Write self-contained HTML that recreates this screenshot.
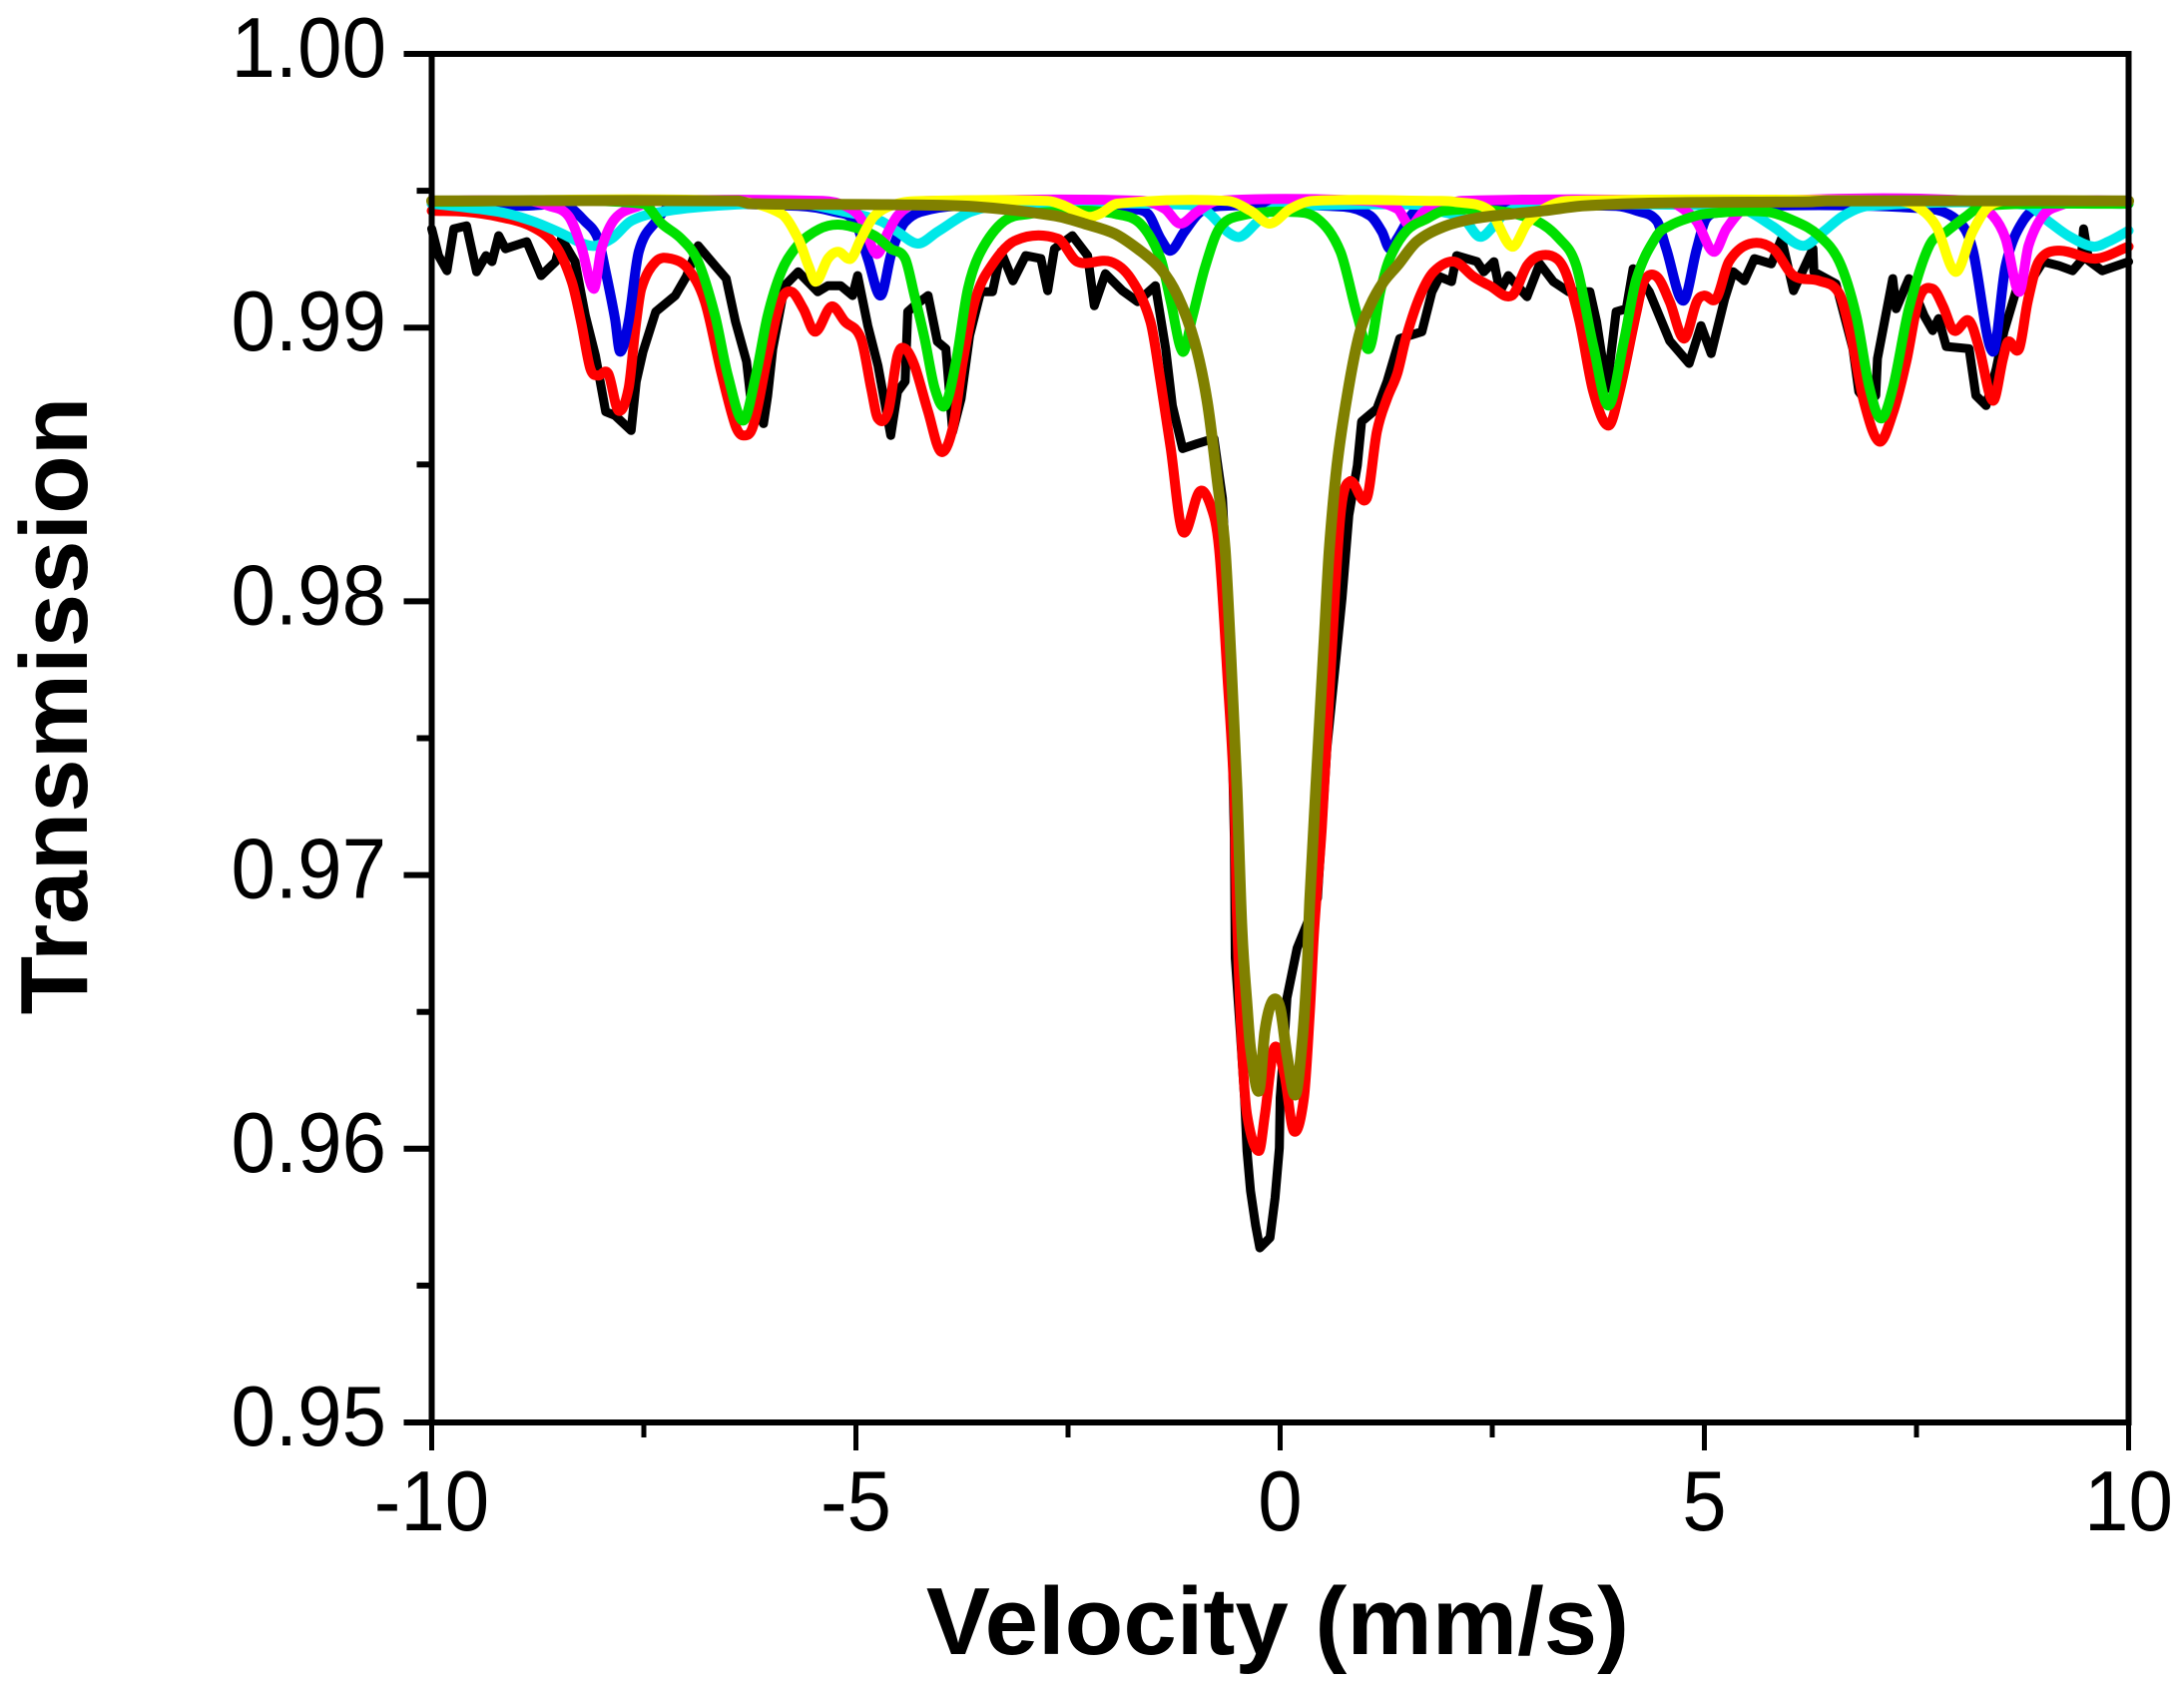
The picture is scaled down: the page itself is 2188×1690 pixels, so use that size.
<!DOCTYPE html>
<html lang="en">
<head>
<meta charset="utf-8">
<title>Transmission vs Velocity</title>
<style>
html,body{margin:0;padding:0;background:#fff;}
svg{display:block;}
text{font-family:"Liberation Sans",Arial,sans-serif;fill:#000;}
</style>
</head>
<body>
<svg id="chart" xmlns="http://www.w3.org/2000/svg" width="2188" height="1690" viewBox="0 0 2188 1690">
  <rect x="0" y="0" width="2188" height="1690" fill="#ffffff"/>
  <g id="series" fill="none" stroke-linejoin="round" stroke-linecap="round"></g>
  <g id="axes"></g>
  <text x="1280" y="1657" font-size="96" font-weight="bold" text-anchor="middle">Velocity (mm/s)</text>
  <text transform="translate(87,707) rotate(-90)" font-size="96" font-weight="bold" text-anchor="middle">Transmission</text>
</svg>
<script>
const xTickValues = [-10, -7.5, -5, -2.5, 0, 2.5, 5, 7.5, 10];
const xTickLabels = ['-10', '', '-5', '', '0', '', '5', '', '10'];
const yTickValues = [0.95, 0.955, 0.96, 0.965, 0.97, 0.975, 0.98, 0.985, 0.99, 0.995, 1];
const yTickLabels = ['0.95', '', '0.96', '', '0.97', '', '0.98', '', '0.99', '', '1.00'];

const measuredVelocity = [
-10,-9.92,-9.82,-9.74,-9.59,-9.47,-9.36,-9.29,-9.21,-9.13,
-8.88,-8.71,-8.54,-8.47,-8.31,-8.19,-8.07,-7.95,-7.84,-7.65,
-7.59,-7.51,-7.36,-7.13,-7,-6.86,-6.66,-6.53,-6.42,-6.29,
-6.24,-6.09,-6.04,-5.98,-5.84,-5.68,-5.45,-5.33,-5.18,-5.04,
-4.98,-4.86,-4.74,-4.59,-4.51,-4.42,-4.39,-4.31,-4.15,-4.04,
-3.94,-3.86,-3.76,-3.66,-3.53,-3.39,-3.29,-3.15,-3,-2.82,
-2.74,-2.66,-2.45,-2.27,-2.19,-2.06,-1.86,-1.68,-1.47,-1.35,
-1.27,-1.15,-.98,-.78,-.68,-.59,-.54,-.53,-.47,-.42,
-.39,-.35,-.29,-.24,-.12,-.06,-.01,0,.05,.08,
.2,.44,.55,.73,.81,.91,.96,1.14,1.26,1.41,
1.67,1.79,1.88,2.02,2.08,2.32,2.4,2.52,2.59,2.69,
2.91,3.06,3.22,3.4,3.65,3.73,3.85,3.96,4.08,4.16,
4.35,4.59,4.82,4.96,5.08,5.24,5.34,5.47,5.59,5.79,
5.91,6.05,6.28,6.29,6.55,6.75,6.82,6.93,7.02,7.04,
7.22,7.26,7.41,7.59,7.69,7.76,7.85,8.12,8.2,8.32,
8.44,8.53,8.67,8.79,8.99,9.18,9.34,9.44,9.47,9.53,
9.69,10];
const measuredTransmission = [
.99361,.99263,.99208,.99361,.99372,.99204,.99263,.99241,.99336,.99288,
.99314,.9919,.99241,.99325,.99241,.99044,.98898,.98693,.98679,.98624,
.98803,.98912,.99058,.99117,.99186,.99299,.99226,.99179,.99022,.98876,
.98741,.98649,.98752,.98923,.99153,.99204,.99131,.99153,.99153,.99117,
.9919,.99007,.98861,.98606,.98766,.98803,.99058,.9908,.99117,.98949,
.98923,.9862,.98741,.98971,.99131,.99131,.99277,.99171,.99263,.99252,
.99135,.99288,.99336,.99263,.9908,.99197,.99135,.99095,.99153,.98923,
.98715,.98558,.98576,.98595,.98376,.97828,.97135,.96697,.9643,.96186,
.95992,.95846,.95722,.95638,.95675,.95821,.96003,.96186,.96405,.96551,
.96733,.96916,.97463,.98011,.98314,.98496,.98657,.98704,.98803,.9896,
.98985,.99131,.99186,.99168,.99263,.99241,.99204,.99241,.99131,.9919,
.99113,.99233,.99168,.99131,.99131,.99022,.98777,.99058,.99069,.99215,
.99131,.98952,.98869,.99007,.98905,.99106,.99204,.99171,.99252,.99233,
.99325,.99135,.99288,.99204,.9916,.98923,.98766,.98723,.98752,.98887,
.99179,.99069,.99179,.99044,.98989,.99033,.98931,.98923,.98752,.98715,
.9885,.98985,.99131,.99142,.99241,.99226,.99208,.99244,.99361,.99244,
.99208,.99241];

const totalFitVelocity = [
-10,-9.6,-9.21,-8.82,-8.54,-8.35,-8.24,-8.13,-8.04,-7.92,
-7.8,-7.68,-7.6,-7.53,-7.36,-7.18,-6.98,-6.78,-6.59,-6.42,
-6.33,-6.21,-6.04,-5.89,-5.76,-5.62,-5.48,-5.29,-5.13,-4.94,
-4.82,-4.74,-4.62,-4.51,-4.42,-4.31,-4.15,-4,-3.86,-3.74,
-3.6,-3.45,-3.13,-2.62,-2.39,-2,-1.76,-1.53,-1.41,-1.29,
-1.15,-.95,-.82,-.72,-.62,-.54,-.51,-.45,-.39,-.25,
-.18,-.07,.05,.16,.28,.35,.4,.49,.59,.71,
.82,1.02,1.14,1.26,1.38,1.49,1.65,1.81,2.05,2.28,
2.47,2.73,2.91,3.06,3.26,3.38,3.53,3.69,3.87,4,
4.2,4.29,4.44,4.59,4.76,4.91,5,5.14,5.29,5.53,
5.81,6.05,6.35,6.59,6.73,6.88,7.06,7.22,7.38,7.53,
7.69,7.81,7.94,8.12,8.24,8.4,8.52,8.58,8.71,8.81,
8.94,9.18,9.61,10];
const totalFitTransmission = [
.99427,.99423,.99405,.99369,.99299,.99168,.99022,.9885,.98825,.98832,
.98697,.98777,.98996,.99142,.99241,.99252,.99215,.99095,.98839,.98642,
.98606,.98642,.98898,.99095,.99131,.99069,.98985,.99077,.99022,.9896,
.98777,.98668,.98693,.98898,.98923,.98861,.98693,.98547,.98631,.98876,
.99095,.99204,.99317,.99325,.99241,.99241,.99179,.99022,.98803,.98558,
.98255,.98401,.9835,.98193,.97719,.97281,.96854,.96368,.96124,.95992,
.96124,.96368,.9627,.96065,.96186,.96503,.96795,.97171,.97719,.98314,
.98438,.98376,.9862,.98741,.98832,.98971,.99117,.99204,.99241,.99186,
.99153,.99117,.99226,.99263,.99252,.9919,.99022,.98766,.98642,.98766,
.99058,.99171,.99186,.99095,.9896,.99095,.99117,.99106,.99241,.99306,
.99288,.9919,.99171,.99124,.98967,.9873,.98584,.98686,.98876,.99106,
.99142,.9908,.98989,.99025,.98923,.98733,.98887,.98949,.98923,.99095,
.99241,.99281,.99252,.99296];

const blueVelocity = [
-10,-8.94,-8.42,-8.19,-8.04,-7.95,-7.84,-7.78,-7.68,-7.56,
-7.36,-7.18,-5.68,-5.25,-5.01,-4.86,-4.71,-4.59,-4.51,-4.42,
-4.24,-3.8,-2.04,-1.8,-1.56,-1.41,-1.29,-1.13,-.94,-.68,
.75,1.06,1.2,1.29,1.38,1.58,1.85,3.96,4.2,4.44,
4.55,4.75,4.91,5.02,5.22,5.49,7.65,8,8.16,8.4,
8.55,8.75,8.99,10];
const blueTransmission = [
.99453,.99445,.99445,.99387,.99325,.99204,.99033,.98912,.99022,.99277,
.99387,.99442,.99445,.99423,.99387,.99252,.99117,.99263,.99336,.99387,
.99423,.99445,.99445,.99434,.99416,.99325,.99281,.9935,.99423,.99445,
.99442,.99409,.9935,.99288,.99325,.99423,.99445,.99445,.99427,.9939,
.99288,.99098,.99288,.99398,.99423,.99445,.99434,.99387,.99288,.98912,
.99226,.99387,.99445,.99453];

const cyanVelocity = [
-10,-9.21,-8.82,-8.51,-8.12,-7.88,-7.65,-7.29,-6.66,-5.68,
-5.13,-4.71,-4.51,-4.27,-4.04,-3.65,-3.21,-1.09,-.86,-.62,
-.47,-.29,-.15,.02,1.61,1.85,2.16,2.35,2.52,2.64,
2.91,5.32,5.53,5.81,6.16,6.4,6.64,6.94,8.79,9.06,
9.29,9.58,9.76,10];
const cyanTransmission = [
.99453,.99423,.9939,.9935,.99299,.99325,.9939,.99423,.99445,.99453,
.99423,.9939,.9935,.99307,.9935,.99423,.99449,.99449,.99423,.9935,
.99332,.9938,.99423,.99442,.99449,.99427,.99398,.99332,.99372,.99416,
.99445,.99445,.99423,.99369,.99299,.9935,.99409,.99445,.99449,.99387,
.99336,.99296,.99314,.99354];

const magentaVelocity = [
-10,-8.86,-8.62,-8.39,-8.24,-8.09,-8,-7.84,-7.56,-7.33,
-5.39,-5.13,-4.94,-4.76,-4.62,-4.51,-4.33,-4.09,-1.62,-1.36,
-1.18,-.98,-.74,1.02,1.38,1.53,1.69,1.88,2.14,4.55,
4.75,4.91,5.11,5.26,5.46,5.73,8.14,8.4,8.55,8.71,
8.82,8.99,9.18,9.44,10];
const magentaTransmission = [
.99463,.99463,.99445,.99409,.99299,.99142,.99288,.99398,.99445,.99463,
.99463,.99445,.99398,.9927,.9935,.99409,.99453,.99463,.99463,.99434,
.9938,.99423,.99463,.99463,.99434,.99372,.99423,.99442,.99463,.99463,
.99434,.99387,.99277,.99361,.99434,.99463,.99463,.99409,.99325,.99131,
.99299,.99409,.99445,.99463,.99463];

const greenVelocity = [
-10,-7.51,-7.29,-7.06,-6.86,-6.66,-6.51,-6.33,-6.18,-6.04,
-5.88,-5.72,-5.56,-5.33,-5.09,-4.78,-4.59,-4.42,-4.31,-4.19,
-4.07,-3.95,-3.82,-3.68,-3.53,-3.25,-2.94,-2.66,-2.27,-1.95,
-1.65,-1.41,-1.29,-1.15,-1.04,-.89,-.72,-.47,.12,.44,
.71,.91,1.05,1.18,1.29,1.49,1.73,1.93,2.55,3.02,
3.29,3.49,3.69,3.87,4.05,4.2,4.44,4.59,4.79,5.02,
5.73,6.08,6.35,6.59,6.79,6.94,7.08,7.22,7.41,7.65,
7.85,8.08,8.28,10];
const greenTransmission = [
.9946,.99453,.9938,.99325,.99241,.99044,.98825,.9866,.98825,.99044,
.99204,.99288,.99336,.99372,.99372,.99336,.99288,.99252,.99117,.9896,
.98777,.98715,.98876,.99142,.99277,.9939,.99416,.99423,.99427,.99416,
.9938,.99252,.99095,.98912,.99033,.99215,.99361,.99409,.99423,.99398,
.99277,.99044,.98923,.99131,.99252,.99354,.99398,.99427,.99427,.9939,
.99325,.99226,.98934,.98715,.98949,.99179,.99336,.99372,.99398,.99416,
.99423,.99387,.99336,.99241,.99044,.98788,.98668,.98777,.99069,.99299,
.9935,.99405,.99445,.99453];

const yellowVelocity = [
-10,-6.47,-5.88,-5.68,-5.56,-5.47,-5.33,-5.21,-5.06,-4.94,
-4.78,-4.51,-4.15,-2.74,-2.54,-2.27,-2.12,-1.92,-.62,-.35,
-.12,.12,.38,1.85,2.05,2.47,2.73,2.91,3.11,3.38,
7.26,7.49,7.73,7.96,8.16,8.35,8.61,10];
const yellowTransmission = [
.99463,.99463,.99416,.99325,.99226,.99168,.99252,.99277,.99252,.99325,
.99409,.99453,.99463,.99463,.99445,.99405,.99416,.99453,.99463,.99427,
.9938,.99434,.99463,.99463,.9946,.99427,.99296,.9938,.99434,.99463,
.99463,.99445,.99372,.99204,.9935,.99442,.99463,.99463];

const oliveVelocity = [
-10,-6.39,-6.25,-4.51,-3.6,-2.66,-2.31,-1.95,-1.68,-1.41,
-1.21,-1.01,-.86,-.74,-.65,-.58,-.51,-.45,-.39,-.35,
-.25,-.18,-.09,0,.08,.18,.26,.32,.35,.44,
.52,.58,.67,.79,.93,1.06,1.22,1.38,1.61,1.93,
2.28,2.75,3.11,3.58,4.52,6.24,6.44,10];
const oliveTransmission = [
.99463,.99463,.99453,.99449,.99442,.99409,.9938,.99343,.99288,.99215,
.99117,.98949,.9873,.98438,.98193,.97792,.97317,.96795,.96525,.96368,
.96211,.9643,.9654,.96514,.96343,.96197,.96394,.96671,.96916,.97427,
.97865,.98193,.98496,.98752,.98971,.9908,.99168,.99226,.99314,.99369,
.99398,.99416,.99427,.99445,.99456,.9946,.99463,.99463];

const xDomain = [-10, 10];
const yDomain = [0.95, 1];
const plotLeft = 432.5, plotRight = 2132.5, plotTop = 54, plotBottom = 1425;

function xScale(v) { return plotLeft + (v - xDomain[0]) / (xDomain[1] - xDomain[0]) * (plotRight - plotLeft); }
function yScale(t) { return plotBottom - (t - yDomain[0]) / (yDomain[1] - yDomain[0]) * (plotBottom - plotTop); }

const SVG_NS = 'http://www.w3.org/2000/svg';

function linePath(vs, ts) {
  const n = Math.min(vs.length, ts.length);
  let d = '';
  for (let i = 0; i < n; i++) {
    d += (i ? 'L' : 'M') + xScale(vs[i]).toFixed(1) + ' ' + yScale(ts[i]).toFixed(1);
  }
  return d;
}

function smoothPath(vs, ts) {
  const n = Math.min(vs.length, ts.length);
  const px = [], py = [];
  for (let i = 0; i < n; i++) { px.push(xScale(vs[i])); py.push(yScale(ts[i])); }
  const slope = function (i) {
    const a = Math.max(i - 1, 0), b = Math.min(i + 1, n - 1);
    return (py[b] - py[a]) / (px[b] - px[a]);
  };
  let d = 'M' + px[0].toFixed(1) + ' ' + py[0].toFixed(1);
  for (let i = 0; i < n - 1; i++) {
    const h = (px[i + 1] - px[i]) / 3;
    d += 'C' + (px[i] + h).toFixed(1) + ' ' + (py[i] + slope(i) * h).toFixed(1) + ' ' +
         (px[i + 1] - h).toFixed(1) + ' ' + (py[i + 1] - slope(i + 1) * h).toFixed(1) + ' ' +
         px[i + 1].toFixed(1) + ' ' + py[i + 1].toFixed(1);
  }
  return d;
}

const seriesGroup = document.getElementById('series');
const axesGroup = document.getElementById('axes');

function addSeries(name, vs, ts, color, width, smooth) {
  const path = document.createElementNS(SVG_NS, 'path');
  
  
  path.setAttribute('d', smooth ? smoothPath(vs, ts) : linePath(vs, ts));
  path.setAttribute('stroke', color);
  path.setAttribute('stroke-width', width);
  seriesGroup.appendChild(path);
}

addSeries('measured-spectrum-line', measuredVelocity, measuredTransmission, '#000000', 9, false);
addSeries('total-fit-line', totalFitVelocity, totalFitTransmission, '#ff0000', 10, true);
addSeries('sextet-blue-line', blueVelocity, blueTransmission, '#0000e0', 10, true);
addSeries('sextet-cyan-line', cyanVelocity, cyanTransmission, '#00e8e8', 10, true);
addSeries('sextet-magenta-line', magentaVelocity, magentaTransmission, '#ff00ff', 10, true);
addSeries('sextet-green-line', greenVelocity, greenTransmission, '#00e000', 10, true);
addSeries('sextet-yellow-line', yellowVelocity, yellowTransmission, '#ffff00', 10, true);
addSeries('doublet-olive-line', oliveVelocity, oliveTransmission, '#808000', 11, true);

function addLine(name, x1, y1, x2, y2, width) {
  const line = document.createElementNS(SVG_NS, 'line');
  
  
  line.setAttribute('x1', x1);
  line.setAttribute('y1', y1);
  line.setAttribute('x2', x2);
  line.setAttribute('y2', y2);
  line.setAttribute('stroke', '#000000');
  line.setAttribute('stroke-width', width);
  axesGroup.appendChild(line);
}

function addLabel(name, str, x, y, anchor) {
  const label = document.createElementNS(SVG_NS, 'text');
  
  
  label.setAttribute('x', x);
  label.setAttribute('y', y);
  label.setAttribute('font-size', '85');
  label.setAttribute('text-anchor', anchor);
  label.textContent = str;
  axesGroup.appendChild(label);
  label.setAttribute('textLength', (label.getComputedTextLength() * 0.94).toFixed(1));
  label.setAttribute('lengthAdjust', 'spacingAndGlyphs');
}

addLine('left-axis-line', plotLeft, plotTop - 3, plotLeft, plotBottom + 3, 6);
addLine('right-axis-line', plotRight, plotTop - 3, plotRight, plotBottom + 3, 6);
addLine('top-axis-line', plotLeft, plotTop, plotRight, plotTop, 6);
addLine('bottom-axis-line', plotLeft, plotBottom, plotRight, plotBottom, 6);

xTickValues.forEach(function (v, i) {
  const x = xScale(v);
  const major = xTickLabels[i] !== '';
  addLine('x-axis-tick', x, plotBottom, x, plotBottom + (major ? 28 : 15), 5);
  if (major) addLabel('x-axis-tick-label', xTickLabels[i], x, 1533, 'middle');
});

yTickValues.forEach(function (t, i) {
  const y = yScale(t);
  const major = yTickLabels[i] !== '';
  addLine('y-axis-tick', plotLeft, y, plotLeft - (major ? 28 : 15), y, 6);
  if (major) addLabel('y-axis-tick-label', yTickLabels[i], 387, y + 23, 'end');
});
</script>
</body>
</html>
